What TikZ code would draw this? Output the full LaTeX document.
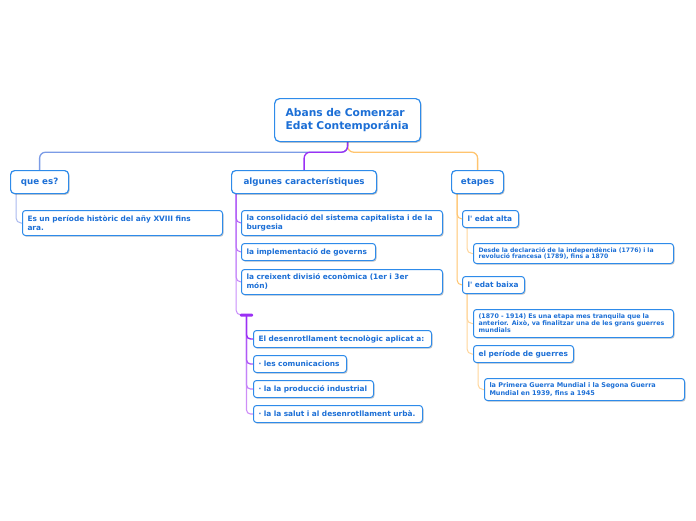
\documentclass[tikz,border=0pt]{standalone}
\usepackage{fontspec}
\setmainfont{DejaVu Sans}
\usetikzlibrary{shadows,backgrounds}
\definecolor{tx}{HTML}{1C6FD6}
\definecolor{bd}{HTML}{2E8BEA}
\definecolor{lb}{HTML}{7B9BE6}
\definecolor{llb}{HTML}{A9B8EE}
\definecolor{pu}{HTML}{9B30F5}
\definecolor{lpu}{HTML}{CE8EF7}
\definecolor{orc}{HTML}{FFC46E}
\definecolor{lor}{HTML}{FFD59A}
\begin{document}
\begin{tikzpicture}[x=1pt,y=-1pt,
 box/.style={draw=bd, line width=1pt, fill=white, rounded corners=3pt, anchor=north west,
   align=left, text=tx, inner xsep=5pt, inner ysep=0pt,
   execute at begin node={\hyphenpenalty=10000\exhyphenpenalty=10000},
   drop shadow={shadow xshift=1pt, shadow yshift=-1.2pt, opacity=0.3, fill=black!70}},
 rootbox/.style={box, rounded corners=5pt, line width=1.2pt, inner xsep=9pt, font=\fontsize{10.7}{12.5}\selectfont\bfseries},
 topic/.style={box, rounded corners=4pt, line width=1.2pt, align=center, font=\fontsize{8.7}{10}\selectfont\bfseries},
 sub/.style={box, font=\fontsize{7.4}{9}\selectfont\bfseries},
 subs/.style={box, font=\fontsize{6.1}{6.8}\selectfont\bfseries},
 conn/.style={line width=1pt, rounded corners=5pt},
 bigconn/.style={line width=1.3pt, rounded corners=6pt},
 barnode/.style={fill=pu, minimum width=13pt, minimum height=3pt, inner sep=0pt, rounded corners=1pt}
]
\useasboundingbox (0,0) rectangle (696,520);

% root
\node[rootbox, minimum width=146pt, minimum height=43pt, text width=128pt] (r) at (274,98)
  {\hspace*{2pt}Abans de Comenzar\\\hspace*{2pt}Edat Contemporánia};

% main topics
\node[topic, minimum width=58pt, minimum height=23pt] (q) at (10,170) {que es?};
\node[topic, minimum width=145pt, minimum height=23pt] (a) at (231,170) {algunes característiques};
\node[topic, minimum width=52pt, minimum height=23pt] (et) at (451,170) {etapes};

% que es? child
\node[sub, minimum width=200pt, minimum height=25pt, text width=190pt] (e1) at (22,210)
  {Es un període històric del añy XVIII fins\\ara.};

% algunes children
\node[sub, minimum width=201pt, minimum height=25pt, text width=191pt] (c1) at (241,210)
  {la consolidació del sistema capitalista i de la\\burgesia};
\node[sub, minimum width=134pt, minimum height=17pt, text width=124pt] (c2) at (241,243)
  {la implementació de governs};
\node[sub, minimum width=201pt, minimum height=25pt, text width=191pt] (c3) at (241,269)
  {la creixent divisió econòmica (1er i 3er\\món)};
\node[barnode] (bar) at (246.5,315) {};

\node[sub, minimum width=178pt, minimum height=17pt, text width=168pt] (d1) at (253,330)
  {El desenrotllament tecnològic aplicat a:};
\node[sub, minimum width=93pt, minimum height=17pt, text width=83pt] (d2) at (253,355)
  {· les comunicacions};
\node[sub, minimum width=120pt, minimum height=17pt, text width=110pt] (d3) at (253,380)
  {· la la producció industrial};
\node[sub, minimum width=169pt, minimum height=17pt, text width=159pt] (d4) at (253,405)
  {· la la salut i al desenrotllament urbà.};

% etapes children
\node[sub, minimum width=56pt, minimum height=17pt, text width=46pt] (t1) at (462,210)
  {l\textquotesingle{} edat alta};
\node[subs, minimum width=200pt, minimum height=20pt, text width=190pt] (t1a) at (473,243)
  {Desde la declaració de la independència (1776) i la\\revolució francesa (1789), fins a 1870};
\node[sub, minimum width=62pt, minimum height=17pt, text width=52pt] (t2) at (462,276)
  {l\textquotesingle{} edat baixa};
\node[subs, font=\fontsize{6.3}{7}\selectfont\bfseries, minimum width=200pt, minimum height=28pt, text width=190pt] (t2a) at (473,309)
  {(1870 - 1914) Es una etapa mes tranquila que la\\anterior. Això, va finalitzar una de les grans guerres\\mundials};
\node[sub, minimum width=100pt, minimum height=17pt, text width=90pt] (t3) at (473,345)
  {el període de guerres};
\node[subs, font=\fontsize{6.5}{7.6}\selectfont\bfseries, minimum width=200pt, minimum height=22pt, text width=190pt] (t3a) at (484,378)
  {la Primera Guerra Mundial i la Segona Guerra\\Mundial en 1939, fins a 1945};

\begin{scope}[on background layer]
% root connectors
\draw[bigconn, draw=lb] (r.south) -- ++(0,10) -| (q.north);
\draw[bigconn, draw=orc] (r.south) -- ++(0,10) -| (et.north);
\draw[bigconn, draw=pu] (r.south) -- ++(0,10) -| (a.north);

% que es? connector
\draw[conn, draw=llb] ([xshift=6pt]q.south west) |- (e1.west);

% algunes connectors
\draw[conn, draw=pu!55] ([xshift=5pt]a.south west) |- (bar.west);
\draw[conn, draw=pu!60] ([xshift=5pt]a.south west) |- (c3.west);
\draw[conn, draw=pu!70] ([xshift=5pt]a.south west) |- (c2.west);
\draw[conn, draw=pu!80] ([xshift=5pt]a.south west) |- (c1.west);

% bar connectors
\draw[line width=1.1pt, draw=lpu, rounded corners=4pt] (bar.center) |- (d4.west);
\draw[line width=1.2pt, draw=pu!60, rounded corners=4pt] (bar.center) |- (d3.west);
\draw[line width=1.3pt, draw=pu!80, rounded corners=4pt] (bar.center) |- (d2.west);
\draw[line width=1.4pt, draw=pu, rounded corners=4pt] (bar.center) |- (d1.west);

% etapes connectors
\draw[conn, draw=orc] ([xshift=6pt]et.south west) |- (t2.west);
\draw[conn, draw=orc] ([xshift=6pt]et.south west) |- (t1.west);
\draw[conn, draw=lor] ([xshift=5pt]t1.south west) |- (t1a.west);
\draw[conn, draw=lor] ([xshift=5pt]t2.south west) |- (t3.west);
\draw[conn, draw=lor] ([xshift=5pt]t2.south west) |- (t2a.west);
\draw[conn, draw=lor] ([xshift=5pt]t3.south west) |- (t3a.west);
\end{scope}
\end{tikzpicture}
\end{document}
